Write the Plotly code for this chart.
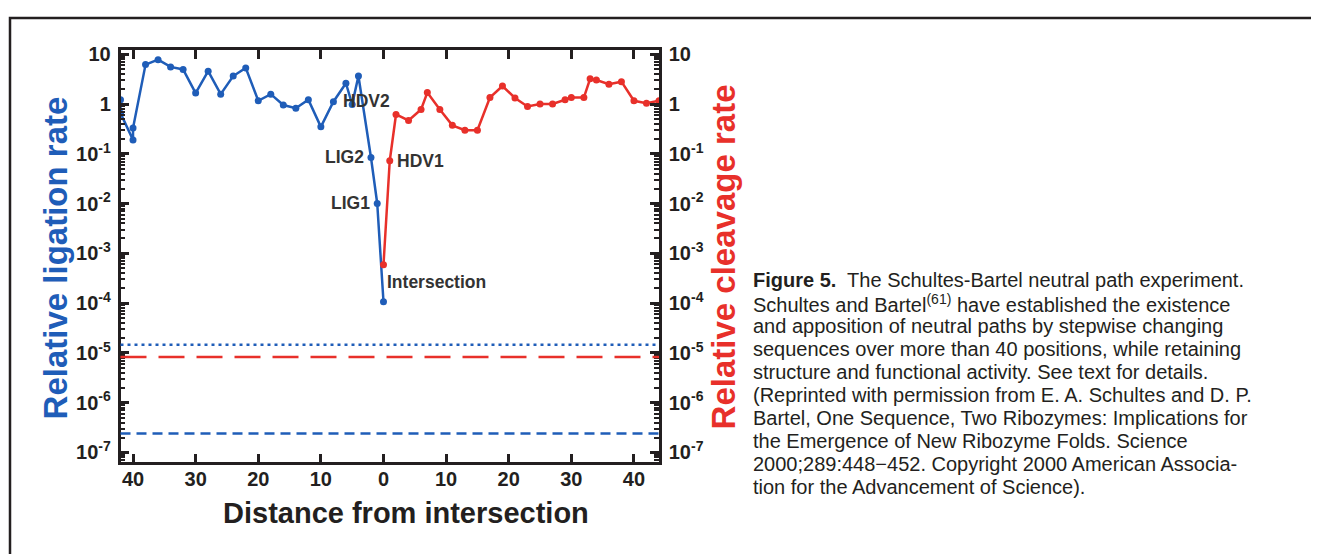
import math
import plotly.graph_objects as go

# ---------------- data ----------------
lig_pos = [-42, -42, -40, -40, -38, -36, -34, -32, -30, -28, -26, -24, -22, -20,
           -18, -16, -14, -12, -10, -8, -6, -5, -4, -2, -1, 0]
lig_rate = [1.23, 0.66, 0.19, 0.33, 6.25, 7.85, 5.6, 4.98, 1.67, 4.6, 1.59, 3.67, 5.36, 1.17,
            1.59, 0.96, 0.83, 1.23, 0.35, 1.12, 2.63, 0.99, 3.67, 0.085, 0.0101, 1.07e-4]

cleav_pos = [0, 1, 2, 4, 6, 7, 9, 11, 13, 15, 17, 19, 21, 23, 25, 27, 29, 30, 32, 33,
             34, 36, 38, 40, 42, 44]
cleav_rate = [5.9e-4, 0.073, 0.62, 0.47, 0.78, 1.71, 0.78, 0.375, 0.30, 0.30, 1.36, 2.32,
              1.33, 0.90, 1.01, 1.01, 1.23, 1.36, 1.36, 3.24, 3.05, 2.51, 2.83, 1.17, 1.04, 1.17]

lig_dotted_level = 1.46e-5
cleav_dashed_level = 8.3e-6
lig_dashed_level = 2.4e-7

x_tickvals = [-40, -30, -20, -10, 0, 10, 20, 30, 40]
x_ticktext = ["40", "30", "20", "10", "0", "10", "20", "30", "40"]
y_tickvals = [1e-7, 1e-6, 1e-5, 1e-4, 1e-3, 1e-2, 1e-1, 1, 10]
y_ticktext = ["10<sup>-7</sup>", "10<sup>-6</sup>", "10<sup>-5</sup>", "10<sup>-4</sup>",
              "10<sup>-3</sup>", "10<sup>-2</sup>", "10<sup>-1</sup>", "1", "10"]

point_labels = [
    # text, series, index, xanchor, xshift, yshift
    ("LIG2", "lig", 23, "right", -5, 0),
    ("LIG1", "lig", 24, "right", -5, 0),
    ("HDV2", "cleav", 2, "right", -4, 13),
    ("HDV1", "cleav", 1, "left", 5, 0),
    ("Intersection", "cleav", 0, "left", 2, -17),
]

caption_lines = [
    "<b>Figure 5.</b>  The Schultes-Bartel neutral path experiment.",
    "Schultes and Bartel<sup>(61)</sup> have established the existence",
    "and apposition of neutral paths by stepwise changing",
    "sequences over more than 40 positions, while retaining",
    "structure and functional activity. See text for details.",
    "(Reprinted with permission from E. A. Schultes and D. P.",
    "Bartel, One Sequence, Two Ribozymes: Implications for",
    "the Emergence of New Ribozyme Folds. Science",
    "2000;289:448\u2212452. Copyright 2000 American Associa-",
    "tion for the Advancement of Science).",
]

# ---------------- style ----------------
OFF = 8                      # page body margin of the browser
W, H = 1319 - OFF, 554 - OFF
BLUE = "#1f5db8"
RED = "#e8302a"
INK = "#231f20"
FONT = "Liberation Sans"


def fx(px):
    return (px - OFF) / W


def fy(py):
    return 1 - (py - OFF) / H


px_left, px_right, px_top, px_bottom = 120.5, 659, 44, 462
xdom = [fx(px_left), fx(px_right)]
ydom = [fy(px_bottom), fy(px_top)]
yrange = [-7.198, 1.079]
xrange_ = [-42, 44]

fig = go.Figure()

fig.add_trace(go.Scatter(x=lig_pos, y=lig_rate, mode="lines+markers",
                         line=dict(color=BLUE, width=2.5),
                         marker=dict(color=BLUE, size=7),
                         xaxis="x", yaxis="y", showlegend=False))
fig.add_trace(go.Scatter(x=cleav_pos, y=cleav_rate, mode="lines+markers",
                         line=dict(color=RED, width=2.5),
                         marker=dict(color=RED, size=7),
                         xaxis="x", yaxis="y2", showlegend=False))

# threshold lines
for lvl, col, dash, yref in [(lig_dotted_level, BLUE, "3px,4px", "y"),
                             (cleav_dashed_level, RED, "26px,12px", "y2"),
                             (lig_dashed_level, BLUE, "10px,6px", "y")]:
    fig.add_shape(type="line", xref="x domain", x0=0, x1=1, yref=yref, y0=lvl, y1=lvl,
                  line=dict(color=col, width=2.5, dash=dash))

tickfont = dict(family=FONT, size=20, color=INK, weight="bold")
yaxis_common = dict(type="log", range=yrange, domain=ydom, tickmode="array",
                    tickvals=y_tickvals, ticktext=y_ticktext, ticks="inside",
                    ticklen=9, tickwidth=2.5, tickcolor=INK, showline=True,
                    linecolor=INK, linewidth=2.5, showgrid=False, zeroline=False,
                    tickfont=tickfont, ticklabelstandoff=3,
                    minor=dict(ticks="inside", ticklen=5, tickwidth=1.5,
                               tickcolor=INK, dtick="D1", showgrid=False))

fig.update_layout(
    width=W, height=H, margin=dict(l=0, r=0, t=0, b=0),
    paper_bgcolor="white", plot_bgcolor="white",
    xaxis=dict(range=xrange_, domain=xdom, tickmode="array", tickvals=x_tickvals,
               ticktext=x_ticktext, ticks="inside", ticklen=9, tickwidth=2.5,
               tickcolor=INK, showline=True, linecolor=INK, linewidth=2.5,
               mirror="ticks", showgrid=False, zeroline=False, tickfont=tickfont,
               ticklabelstandoff=-3, anchor="y"),
    yaxis=dict(side="left", anchor="x", **yaxis_common),
    yaxis2=dict(side="right", overlaying="y", anchor="x", **yaxis_common),
)

ann = []
series = {"lig": (lig_pos, lig_rate, "y"), "cleav": (cleav_pos, cleav_rate, "y2")}
for text, s, i, xa, xs, ys in point_labels:
    xs_, ys_, yr = series[s]
    ann.append(dict(text=text, x=xs_[i], y=math.log10(ys_[i]), xref="x", yref=yr,
                    xanchor=xa, yanchor="middle", xshift=xs, yshift=ys, showarrow=False,
                    font=dict(family=FONT, size=17.5, color="#333333", weight="bold")))

# axis titles
ann.append(dict(text="Relative ligation rate", x=fx(55), y=fy(255), xref="paper",
                yref="paper", textangle=-90, showarrow=False, xanchor="center",
                yanchor="middle", font=dict(family=FONT, size=33, color=BLUE, weight="bold")))
ann.append(dict(text="Relative cleavage rate", x=fx(723), y=fy(254), xref="paper",
                yref="paper", textangle=-90, showarrow=False, xanchor="center",
                yanchor="middle", font=dict(family=FONT, size=33, color=RED, weight="bold")))
ann.append(dict(text="Distance from intersection", x=fx(406), y=fy(513), xref="paper",
                yref="paper", showarrow=False, xanchor="center", yanchor="middle",
                font=dict(family=FONT, size=29, color=INK, weight="bold")))

# caption
for k, line in enumerate(caption_lines):
    ann.append(dict(text=line, x=fx(752), y=fy(277 + 23.3 * k), xref="paper",
                    yref="paper", showarrow=False, xanchor="left", yanchor="middle",
                    borderpad=0, font=dict(family=FONT, size=20, color=INK)))
fig.update_layout(annotations=ann)

# figure frame (top and left edges)
fig.add_shape(type="path", xref="paper", yref="paper",
              path=f"M {fx(10)} -0.1 L {fx(10)} {fy(11)} L 1.1 {fy(11)}",
              line=dict(color=INK, width=2.5))

fig.write_html("out.html")
